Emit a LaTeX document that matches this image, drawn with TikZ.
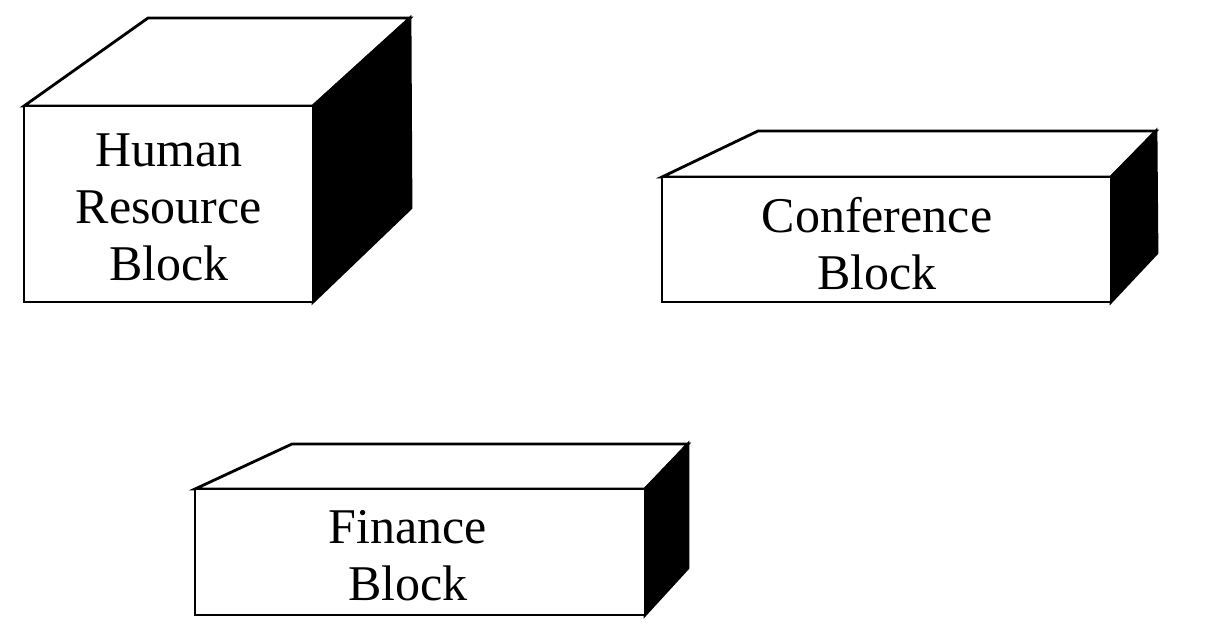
\documentclass[tikz,border=0pt]{standalone}
\usepackage{fontspec}
\setmainfont{Liberation Serif}
\begin{document}
\begin{tikzpicture}[x=1pt,y=-1pt,
  edge/.style={draw=black,line width=2.8pt,line join=miter},
  topface/.style={edge,fill=white},
  sideface/.style={edge,fill=black},
  frontface/.style={edge,fill=white},
  label/.style={align=center,font=\fontsize{50}{57}\selectfont,inner sep=0pt}]
\fill[white] (0,0) rectangle (1216,639);
\useasboundingbox (0,0) rectangle (1216,639);
% Human Resource Block
\path[topface] (24,106) -- (148,18) -- (410,18) -- (313,106) -- cycle;
\path[sideface] (313,106) -- (410,18) -- (411,208) -- (313,302) -- cycle;
\path[frontface] (24,106) rectangle (313,302);
\node[label] (hr) at (169,207) {Human\\Resource\\Block};
% Conference Block
\path[topface] (662,177) -- (758,131) -- (1156,131) -- (1111,177) -- cycle;
\path[sideface] (1111,177) -- (1156,131) -- (1157,253) -- (1111,302) -- cycle;
\path[frontface] (662,177) rectangle (1111,302);
\node[label] (conf) at (877,244) {Conference\\Block};
% Finance Block
\path[topface] (195,489) -- (292,444) -- (688,444) -- (645,489) -- cycle;
\path[sideface] (645,489) -- (688,444) -- (688,568) -- (645,615) -- cycle;
\path[frontface] (195,489) rectangle (645,615);
\node[label] (fin) at (408,556) {Finance\\Block};
\end{tikzpicture}
\end{document}
